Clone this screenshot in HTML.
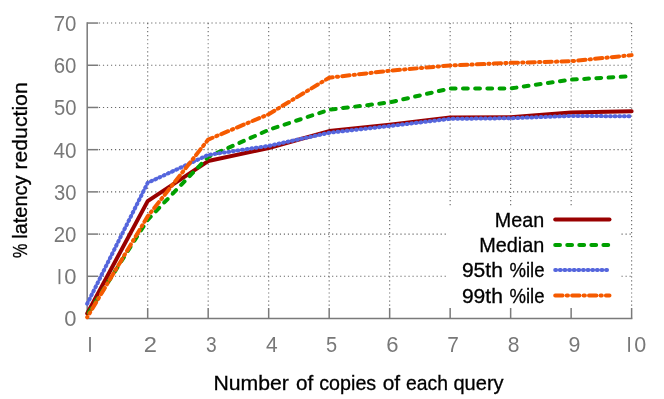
<!DOCTYPE html>
<html><head><meta charset="utf-8"><title>chart</title>
<style>html,body{margin:0;padding:0;background:#fff;}svg{display:block;}text{font-family:"Liberation Sans",sans-serif;}</style></head><body>
<svg width="664" height="399" viewBox="0 0 664 399" style="will-change:transform">
<rect x="0" y="0" width="664" height="399" fill="#ffffff"/>
<g stroke="#686868" stroke-width="1.1" stroke-dasharray="1.2 2.82" fill="none">
<line x1="98.90" y1="276.29" x2="631.63" y2="276.29"/>
<line x1="98.90" y1="234.09" x2="631.63" y2="234.09"/>
<line x1="98.90" y1="191.88" x2="631.63" y2="191.88"/>
<line x1="98.90" y1="149.67" x2="631.63" y2="149.67"/>
<line x1="98.90" y1="107.46" x2="631.63" y2="107.46"/>
<line x1="98.90" y1="65.26" x2="631.63" y2="65.26"/>
<line x1="98.90" y1="23.05" x2="631.63" y2="23.05"/>
<line x1="147.69" y1="23.05" x2="147.69" y2="308.00"/>
<line x1="208.18" y1="23.05" x2="208.18" y2="308.00"/>
<line x1="268.68" y1="23.05" x2="268.68" y2="308.00"/>
<line x1="329.17" y1="23.05" x2="329.17" y2="308.00"/>
<line x1="389.66" y1="23.05" x2="389.66" y2="308.00"/>
<line x1="450.15" y1="23.05" x2="450.15" y2="308.00"/>
<line x1="510.65" y1="23.05" x2="510.65" y2="308.00"/>
<line x1="571.14" y1="23.05" x2="571.14" y2="308.00"/>
<line x1="631.63" y1="23.05" x2="631.63" y2="308.00"/>
</g>
<rect x="446" y="206.5" width="174" height="102" fill="#ffffff"/>
<g stroke="#7a7a7a" stroke-width="1.5" fill="none">
<path d="M87.20 22.30 V318.50 H632.38"/>
<line x1="87.20" y1="276.29" x2="98.20" y2="276.29"/>
<line x1="87.20" y1="234.09" x2="98.20" y2="234.09"/>
<line x1="87.20" y1="191.88" x2="98.20" y2="191.88"/>
<line x1="87.20" y1="149.67" x2="98.20" y2="149.67"/>
<line x1="87.20" y1="107.46" x2="98.20" y2="107.46"/>
<line x1="87.20" y1="65.26" x2="98.20" y2="65.26"/>
<line x1="87.20" y1="23.05" x2="98.20" y2="23.05"/>
<line x1="147.69" y1="318.50" x2="147.69" y2="308.00"/>
<line x1="208.18" y1="318.50" x2="208.18" y2="308.00"/>
<line x1="268.68" y1="318.50" x2="268.68" y2="308.00"/>
<line x1="329.17" y1="318.50" x2="329.17" y2="308.00"/>
<line x1="389.66" y1="318.50" x2="389.66" y2="308.00"/>
<line x1="450.15" y1="318.50" x2="450.15" y2="308.00"/>
<line x1="510.65" y1="318.50" x2="510.65" y2="308.00"/>
<line x1="571.14" y1="318.50" x2="571.14" y2="308.00"/>
<line x1="631.63" y1="318.50" x2="631.63" y2="308.00"/>
</g>
<g fill="none" stroke-width="4" stroke-linecap="round" stroke-linejoin="round">
<polyline stroke="#990000" points="87.20,313.44 147.69,201.16 208.18,161.07 268.68,147.98 329.17,131.10 389.66,124.77 450.15,117.59 510.65,117.17 571.14,112.53 631.63,111.26"/>
<polyline stroke="#00a000" stroke-dasharray="4.8 7.39" stroke-dashoffset="-2.8" points="87.20,315.12 147.69,219.74 208.18,156.85 268.68,129.83 329.17,109.79 389.66,102.40 450.15,88.47 510.65,88.47 571.14,79.61 631.63,76.23"/>
<polyline stroke="#5566dd" stroke-dasharray="0.9 3.73" points="87.20,303.73 147.69,182.80 208.18,154.91 268.68,145.87 329.17,132.79 389.66,126.04 450.15,118.86 510.65,118.23 571.14,115.91 631.63,116.33"/>
<polyline stroke="#f55a00" stroke-dasharray="7.4 4.1 1.3 4.1" stroke-dashoffset="7" points="87.20,317.23 147.69,216.36 208.18,139.54 268.68,114.22 329.17,77.67 389.66,70.74 450.15,65.47 510.65,62.85 571.14,61.25 631.63,55.13"/>
<line stroke="#990000" x1="555.2" y1="219.4" x2="609.5" y2="219.4"/>
<line stroke="#00a000" stroke-dasharray="4.8 7.25" x1="555.2" y1="244.9" x2="609.5" y2="244.9"/>
<line stroke="#5566dd" stroke-dasharray="0.9 3.73" x1="555.2" y1="270.1" x2="609.5" y2="270.1"/>
<line stroke="#f55a00" stroke-dasharray="7.4 4.1 1.3 4.1" x1="555.2" y1="295.6" x2="609.5" y2="295.6"/>
</g>
<g fill="#000000" stroke="#000000" stroke-width="0.3">
<text transform="translate(494.87 226.90) scale(0.9493 1)" font-size="20.80">Mean</text>
<text transform="translate(479.16 252.00) scale(0.9546 1)" font-size="20.80">Median</text>
<text transform="translate(461.90 277.40) scale(1.0113 1)" font-size="20.80">95th</text>
<text transform="translate(509.45 277.40) scale(0.8925 1)" font-size="20.80">%ile</text>
<text transform="translate(461.90 302.60) scale(1.0113 1)" font-size="20.80">99th</text>
<text transform="translate(509.45 302.60) scale(0.8925 1)" font-size="20.80">%ile</text>
</g>
<g fill="#787878">
<text transform="translate(53.68 241.94) scale(0.9333 1)" font-size="21.90">20</text>
<text transform="translate(53.94 199.73) scale(0.9221 1)" font-size="21.90">30</text>
<text transform="translate(53.44 157.52) scale(0.9437 1)" font-size="21.90">40</text>
<text transform="translate(53.89 115.31) scale(0.9243 1)" font-size="21.90">50</text>
<text transform="translate(53.68 73.11) scale(0.9333 1)" font-size="21.90">60</text>
<text transform="translate(53.68 30.90) scale(0.9333 1)" font-size="21.90">70</text>
<text transform="translate(64.22 284.14) scale(1.0041 1)" font-size="21.90">0</text>
<rect x="58.55" y="269.04" width="1.8" height="15.1"/>
<text transform="translate(64.22 326.35) scale(1.0041 1)" font-size="21.90">0</text>
<text transform="translate(143.81 351.90) scale(1.0838 1)" font-size="21.90">2</text>
<text transform="translate(205.88 351.90) scale(0.8748 1)" font-size="21.90">3</text>
<text transform="translate(266.03 351.90) scale(0.9585 1)" font-size="21.90">4</text>
<text transform="translate(326.00 351.90) scale(0.9132 1)" font-size="21.90">5</text>
<text transform="translate(386.20 351.90) scale(1.0070 1)" font-size="21.90">6</text>
<text transform="translate(447.26 351.90) scale(0.9534 1)" font-size="21.90">7</text>
<text transform="translate(507.70 351.90) scale(0.9618 1)" font-size="21.90">8</text>
<text transform="translate(568.58 351.90) scale(0.9774 1)" font-size="21.90">9</text>
<rect x="89.1" y="337.00" width="1.8" height="14.9"/>
<rect x="628.2" y="337.00" width="1.8" height="14.9"/>
<text transform="translate(634.24 351.90) scale(0.9850 1)" font-size="21.90">0</text>
</g>
<g fill="#000000" stroke="#000000" stroke-width="0.3">
<text transform="translate(213.45 389.80) scale(1.0356 1)" font-size="20.50">Number</text>
<text transform="translate(295.92 389.80) scale(1.0095 1)" font-size="20.50">of</text>
<text transform="translate(319.26 389.80) scale(0.9609 1)" font-size="20.50">copies</text>
<text transform="translate(382.71 389.80) scale(1.0218 1)" font-size="20.50">of</text>
<text transform="translate(406.08 389.80) scale(0.9437 1)" font-size="20.50">each</text>
<text transform="translate(453.45 389.80) scale(0.9786 1)" font-size="20.50">query</text>
<text transform="translate(26.50 258.07) rotate(-90) scale(0.7912 1)" font-size="20.50">%</text>
<text transform="translate(26.50 238.75) rotate(-90) scale(0.9748 1)" font-size="20.50">latency</text>
<text transform="translate(26.50 169.58) rotate(-90) scale(1.0356 1)" font-size="20.50">reduction</text>
</g>
</svg></body></html>
